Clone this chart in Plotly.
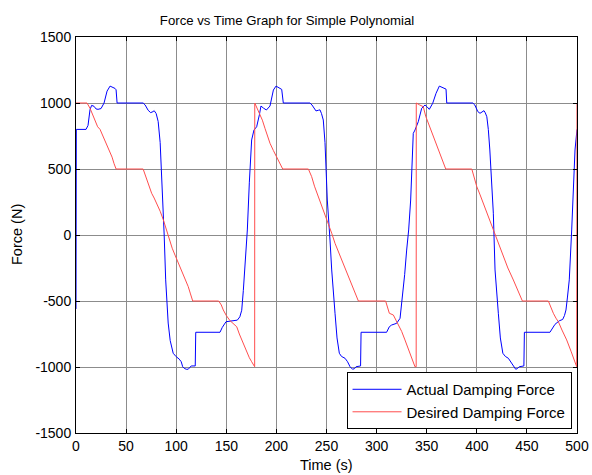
import plotly.graph_objects as go

title_text = "Force vs Time Graph for Simple Polynomial"
x_label = "Time (s)"
y_label = "Force (N)"
series_names = ["Actual Damping Force", "Desired Damping Force"]

t_actual = [0, 0.3, 10, 12, 14, 15.6, 18, 20, 22, 25, 28, 31, 34, 37, 39, 40, 41, 67, 69, 72, 74.5, 77, 78, 80, 82, 84, 86, 88, 89.5, 92, 94, 97, 100, 103, 105, 106.5, 108, 110, 112, 113.5, 115, 119, 119.5, 143.7, 146, 149.7, 155.4, 161, 163.5, 165.4, 167, 168.7, 171, 173, 175.3, 177.6, 180.3, 183, 184.6, 187, 190, 193.6, 197, 199.6, 203.6, 205.3, 206.9,
            233.5, 235.5, 238, 239.5, 242, 243.5, 245, 246.8, 248.5, 250.8, 253.5, 255.2, 258.5, 260.5, 262.8, 265, 268.5, 271, 273.5, 276, 278, 279.5, 284, 284.5, 310, 312.7, 315, 320, 323.4, 326, 328, 330, 332, 334, 336.6, 338.3, 341.6, 345, 348.3, 350.5, 352.6, 356, 359.3, 362.6, 366.6, 369.3, 370,
            396, 398, 401, 403.2, 406, 407.2, 408.5, 410, 411.5, 413, 416.5, 417.5, 418.2, 421.5, 423.5, 426, 428.5, 431.5, 434, 435.8, 438.8, 440.5, 442.4, 447, 447.5, 473, 475.5, 478, 482.3, 485.7, 487.5, 489, 490.5, 492.3, 494.7, 495.7, 498, 500]
f_actual = [-560, 800, 800, 830, 950, 982, 975, 955, 952, 958, 1000, 1090, 1128, 1120, 1110, 1100, 1000, 1000, 985, 945, 927, 935, 942, 920, 860, 700, 400, 0, -340, -667, -800, -896, -922, -940, -960, -998, -1010, -1017, -1017, -1000, -992, -992, -737, -737, -700, -657, -650, -645, -620, -570, -420, -215, 38, 400, 720, 795, 820, 910, 977, 962, 947, 977, 1098, 1128, 1110, 1103, 1000,
            1000, 985, 950, 940, 945, 948, 920, 871, 700, 265, -38, -265, -593, -780, -896, -920, -934, -960, -998, -1017, -1012, -998, -992, -737, -737, -695, -682, -669, -631, -467, -300, -114, 38, 265, 770, 795, 858, 960, 985, 970, 952, 998, 1073, 1128, 1111, 1105, 1000,
            1000, 985, 935, 922, 935, 942, 925, 896, 800, 644, 165, -38, -265, -593, -780, -896, -920, -934, -960, -985, -1017, -1012, -998, -992, -737, -737, -710, -677, -650, -640, -610, -568, -470, -340, 38, 265, 644, 800]

t_desired = [0, 11, 14, 18, 21.6, 24, 27, 30, 33, 36, 38, 40, 67, 70.6, 75.5, 78, 80.5, 84, 87.2, 90, 93.2, 96, 98.8, 102, 105.5, 108, 110, 112, 114, 116.5, 142.4, 145, 147, 150, 153.7, 157, 160.4, 163, 165.4, 168, 170.4, 173, 175.3, 177.6, 178.3, 178.4,
             183, 186, 188.6, 191, 193.6, 197, 200.3, 203, 206.3, 231.9, 235.2, 238, 241.8, 245, 248.5, 252, 255.2, 258.5, 262, 266.8, 270, 273.5, 277, 281.8, 309, 311, 312.7, 316.7, 319, 321.7, 325, 328.3, 331, 334, 336, 338.3, 339.5, 339.6,
             343, 346.6, 349, 351.6, 354, 356.6, 359, 361.6, 365, 369, 395, 397, 400, 403, 406.5, 410, 414.9, 418, 422, 426.5, 431, 436.5, 441, 445.5, 471.4, 474, 476.4, 479, 481.4, 485, 489.7, 494, 497, 499.7, 500]
f_desired = [1000, 1000, 960, 880, 820, 800, 750, 695, 640, 590, 540, 500, 500, 417, 316, 280, 240, 180, 114, 40, -33, -100, -152, -210, -265, -320, -360, -391, -440, -500, -500, -530, -568, -610, -649, -670, -695, -750, -795, -850, -896, -930, -960, -998, -998, 1000,
             922, 870, 808, 750, 695, 640, 593, 550, 500, 500, 442, 370, 290, 230, 165, 90, 13, -63, -130, -215, -280, -341, -410, -500, -500, -550, -593, -606, -640, -669, -730, -795, -850, -896, -950, -998, -998, 1000,
             985, 972, 900, 846, 800, 745, 700, 644, 580, 500, 500, 440, 366, 310, 240, 170, 63, 13, -80, -164, -250, -341, -420, -500, -500, -550, -593, -630, -657, -720, -795, -880, -940, -998, 1000]

x_ticks = [0, 50, 100, 150, 200, 250, 300, 350, 400, 450, 500]
y_ticks = [-1500, -1000, -500, 0, 500, 1000, 1500]
y_tick_text = ["-1500", "-1000", "-500", "0", "500", "1000", "1500"]

FONT = "Liberation Sans, Arial, sans-serif"
W, H = 592, 475

fig = go.Figure()
fig.add_trace(go.Scatter(x=t_actual, y=f_actual, mode="lines", name=series_names[0],
                         line=dict(color="#0000ff", width=1)))
fig.add_trace(go.Scatter(x=t_desired, y=f_desired, mode="lines", name=series_names[1],
                         line=dict(color="#ff4d4d", width=1)))

axis_common = dict(
    showline=True, linecolor="black", linewidth=1, mirror="ticks",
    ticks="inside", ticklen=4, tickcolor="black", tickwidth=1,
    showgrid=True, gridcolor="#8c8c8c", gridwidth=1, zeroline=False,
    tickfont=dict(family=FONT, size=14, color="black"),
)

fig.update_layout(
    width=W, height=H,
    margin=dict(l=76, r=15, t=37, b=42),
    paper_bgcolor="white", plot_bgcolor="white",
    font=dict(family=FONT, size=14, color="black"),
    title=dict(text=title_text, x=287 / W, xanchor="center", xref="container",
               y=1 - 20.5 / H, yanchor="middle", yref="container",
               font=dict(family=FONT, size=13.2, color="black")),
    xaxis=dict(range=[0, 500], tickvals=x_ticks, automargin=False, **axis_common),
    yaxis=dict(range=[-1500, 1500], tickvals=y_ticks, ticktext=y_tick_text, automargin=False,
               ticklabelstandoff=1, **axis_common),
    legend=dict(x=0.54, y=0.01, xanchor="left", yanchor="bottom",
                bordercolor="black", borderwidth=1, bgcolor="white",
                font=dict(family=FONT, size=15, color="black"),
                itemwidth=49, tracegroupgap=0),
    showlegend=True,
    annotations=[
        dict(text=x_label, xref="paper", yref="paper", x=0.5, y=-(465 - 433) / 396,
             xanchor="center", yanchor="middle", showarrow=False,
             font=dict(family=FONT, size=14.5, color="black")),
        dict(text=y_label, xref="paper", yref="paper", x=-(76 - 17) / 501, y=0.5,
             xanchor="center", yanchor="middle", showarrow=False, textangle=-90,
             font=dict(family=FONT, size=14.5, color="black")),
    ],
)

fig.write_html("out.html")
